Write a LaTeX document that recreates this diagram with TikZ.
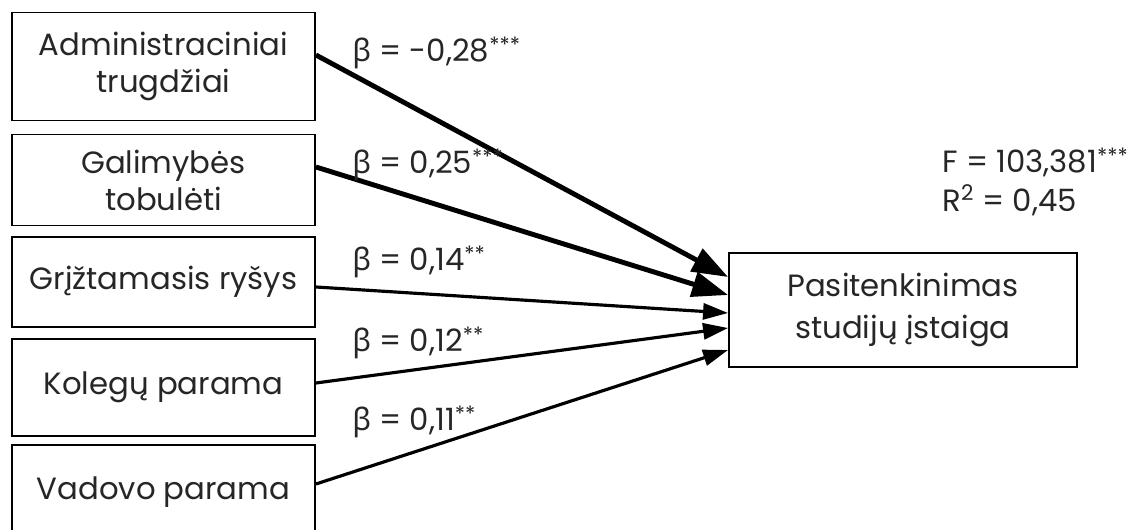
\documentclass[tikz,border=0pt]{standalone}
\usepackage{fontspec}
\setmainfont{Poppins}
\newfontfamily\greekfont{Noto Sans}
\usetikzlibrary{arrows.meta}
\newcommand{\bcoef}{{\greekfont β}}
\newcommand{\stars}[1]{\raisebox{0.5ex}{\fontsize{12}{12}\selectfont #1}}
\tikzset{
    factor-box/.style = {draw, line width=1.1pt, rectangle, minimum width=6.06cm, align=center, inner sep=2pt, text=black!85, font=\fontsize{17.5}{21}\selectfont},
    outcome-box/.style = {draw, line width=1.1pt, rectangle, minimum width=6.96cm, minimum height=2.28cm, align=center, text=black!85, font=\fontsize{17.5}{23.5}\selectfont},
    beta-label/.style = {anchor=west, inner sep=0pt, text=black!85, font=\fontsize{17.5}{21}\selectfont},
    strong-path/.style = {line width=2.8pt, -{Triangle[length=0.72cm, width=0.5cm]}},
    weak-path/.style = {line width=1.8pt, -{Triangle[length=0.5cm, width=0.32cm]}},
}
\begin{document}
\begin{tikzpicture}[x=0.02cm, y=-0.02cm]
\useasboundingbox (0,0) rectangle (1147,530);
% predictors
\node[factor-box, minimum height=2.16cm] (admin) at (163.5,66.5) {Administraciniai\\trugdžiai};
\node[factor-box, minimum height=1.82cm] (growth) at (163.5,180) {Galimybės\\tobulėti};
\node[factor-box, minimum height=1.8cm] (feedback) at (163.5,282) {Grįžtamasis ryšys};
\node[factor-box, minimum height=1.94cm] (peers) at (163.5,387.5) {Kolegų parama};
\node[factor-box, minimum height=1.9cm] (boss) at (163.5,492.5) {Vadovo parama};
% outcome
\node[outcome-box] (goal) at (903,310) {Pasitenkinimas\\studijų įstaiga};
\node[anchor=west, align=left, inner sep=0pt, text=black!85, font=\fontsize{17.5}{22}\selectfont] (stats) at (942,182) {F = 103,381\stars{***}\\R\textsuperscript{2} = 0,45};
% paths
\draw[strong-path] ([yshift=0.23cm]admin.east) -- ([yshift=0.66cm]goal.west);
\draw[strong-path] ([yshift=0.26cm]growth.east) -- ([yshift=0.3cm]goal.west);
\draw[weak-path] ([yshift=-0.1cm]feedback.east) -- ([yshift=-0.06cm]goal.west);
\draw[weak-path] ([yshift=0.09cm]peers.east) -- ([yshift=-0.36cm]goal.west);
\draw[weak-path] ([yshift=0.17cm]boss.east) -- ([yshift=-0.8cm]goal.west);
% coefficients
\node[beta-label] (b1) at (352,53) {\bcoef{} = -0,28\stars{***}};
\node[beta-label] (b2) at (352,165) {\bcoef{} = 0,25\stars{***}};
\node[beta-label] (b3) at (352,262) {\bcoef{} = 0,14\stars{**}};
\node[beta-label] (b4) at (352,343) {\bcoef{} = 0,12\stars{**}};
\node[beta-label] (b5) at (352,422) {\bcoef{} = 0,11\stars{**}};
\end{tikzpicture}
\end{document}
